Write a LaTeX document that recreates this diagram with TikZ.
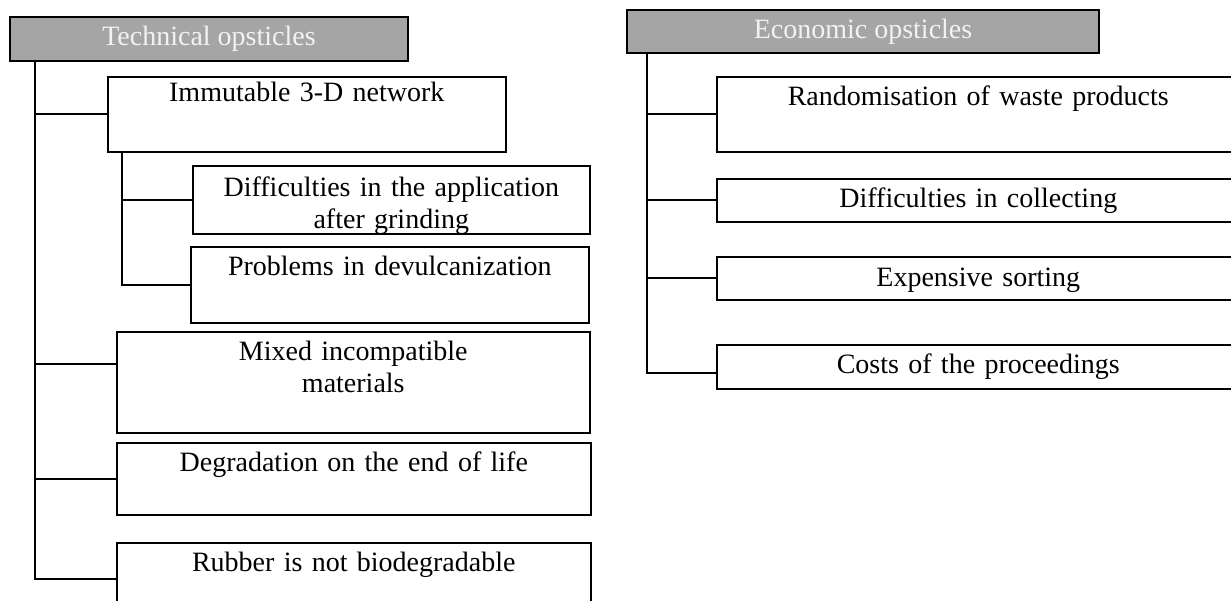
\documentclass[tikz,border=0pt]{standalone}
\usepackage{fontspec}
\setmainfont{Liberation Serif}
\definecolor{hdrgray}{HTML}{A5A5A5}
\definecolor{hdrtext}{HTML}{F2F2F2}
\tikzset{
  hdr/.style={draw, line width=1.6pt, fill=hdrgray, text=hdrtext, inner sep=0pt},
  item/.style={draw, line width=1.6pt, anchor=north west, inner sep=0pt, align=center},
  link/.style={line width=1.6pt}
}
\begin{document}
\begin{tikzpicture}[x=1pt,y=-1pt,font=\fontsize{28}{32}\selectfont]
\useasboundingbox (0,0) rectangle (1231,601);
\node[hdr, minimum width=398pt, minimum height=44pt] (tech) at (209,39) {Technical opsticles};
\node[item, text width=398pt, text height=25pt, text depth=50pt] (immut) at (107,76) {Immutable 3-D network};
\node[item, text width=397pt, text height=31pt, text depth=37pt] (diffapp) at (192,165) {Difficulties in the application\\after grinding};
\node[item, text width=398pt, text height=29pt, text depth=47pt] (problems) at (190,246) {Problems in devulcanization};
\node[item, text width=473pt, text height=29pt, text depth=72pt] (mixed) at (116,331) {Mixed incompatible\\materials};
\node[item, text width=474pt, text height=29pt, text depth=43pt] (degr) at (116,442) {Degradation on the end of life};
\node[item, text width=474pt, text height=29pt, text depth=43pt] (rubber) at (116,542) {Rubber is not biodegradable};

\node[hdr, minimum width=472pt, minimum height=43pt] (econ) at (863,31.5) {Economic opsticles};
\node[item, text width=523pt, text height=29pt, text depth=46pt] (rand) at (716,76) {Randomisation of waste products};
\node[item, text width=523pt, text height=29pt, text depth=14pt] (collect) at (716,178) {Difficulties in collecting};
\node[item, text width=523pt, text height=30pt, text depth=13pt] (sort) at (716,256) {Expensive sorting};
\node[item, text width=523pt, text height=29pt, text depth=15pt] (costs) at (716,344) {Costs of the proceedings};

\coordinate (mixin) at ([yshift=18pt]mixed.west);
\coordinate (costsin) at ([yshift=-6pt]costs.west);
\draw[link] (tech.south west) ++(26,0) coordinate (tl) |- (rubber.west);
\foreach \n in {immut,degr,mixin}
  \draw[link] (tl |- \n.west) -- (\n.west);
\draw[link] (immut.south west) ++(15,0) coordinate (sl) |- (problems.west);
\draw[link] (sl |- diffapp.west) -- (diffapp.west);
\draw[link] (econ.south west) ++(21,0) coordinate (tr) |- (costsin);
\foreach \n in {rand,collect,sort}
  \draw[link] (tr |- \n.west) -- (\n.west);
\end{tikzpicture}
\end{document}
